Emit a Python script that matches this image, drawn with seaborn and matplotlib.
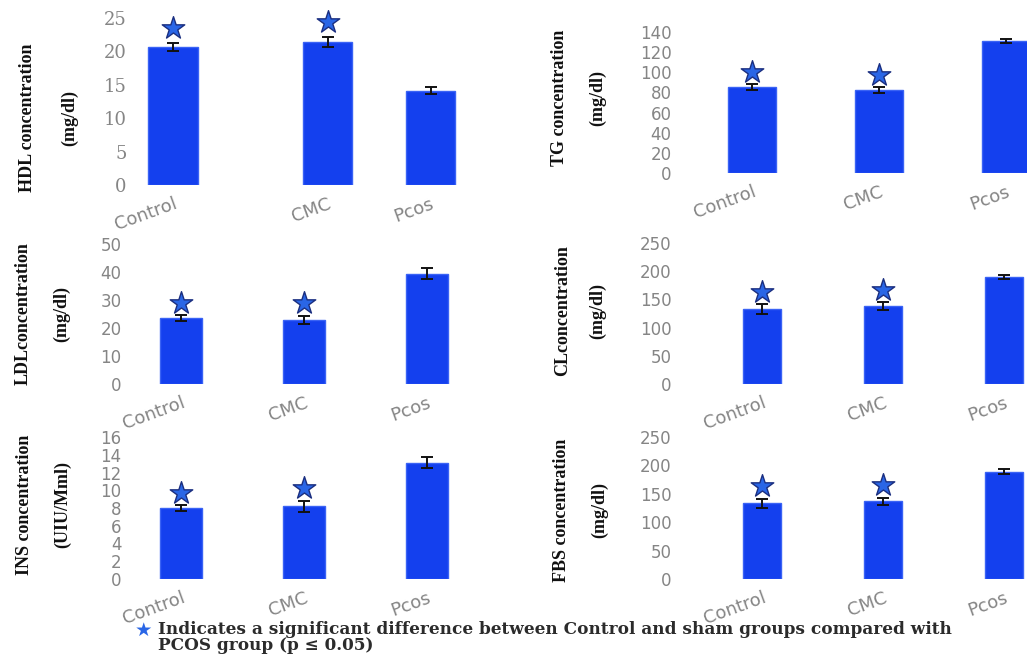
import numpy as np
import pandas as pd
import matplotlib
matplotlib.use("Agg")
import matplotlib.pyplot as plt
import seaborn as sns

groups = ["Control", "CMC", "Pcos"]

# mean values and error
hdl = [20.6, 21.4, 14.1]
hdl_err = [0.6, 0.8, 0.5]
tg = [85, 82, 131]
tg_err = [3, 3, 2]
ldl = [23.6, 22.9, 39.4]
ldl_err = [1.0, 1.5, 2.0]
cl = [133, 138, 190]
cl_err = [8, 7, 4]
ins = [8.0, 8.2, 13.1]
ins_err = [0.3, 0.6, 0.6]
fbs = [133, 137, 189]
fbs_err = [8, 6, 4]

starred = ["Control", "CMC"]

main_labels = ["HDL concentration", "TG concentration", "LDLconcentration",
               "CLconcentration", "INS concentration", "FBS concentration"]
unit_labels = ["(mg/dl)", "(mg/dl)", "(mg/dl)", "(mg/dl)", "(UIU/Mml)", "(mg/dl)"]
ymax = [25, 140, 50, 250, 16, 250]
ystep = [5, 20, 10, 50, 2, 50]

W, H = 1027, 656
bar_color = "#1440ee"
grey = "#858585"

# layout in pixels: axes left, right, y of zero, y of top; x positions; bar width
panels = [
    dict(l=135, r=470, y0=185, y1=18, pos=[0, 1.5, 2.5], x0=173, unit=103, bw=0.48, lx=(28, 70), ly=118),
    dict(l=680, r=1027, y0=173, y1=32, pos=[0, 1, 2], x0=752, unit=127, bw=0.38, lx=(560, 598), ly=98),
    dict(l=130, r=470, y0=384, y1=244, pos=[0, 1, 2], x0=181, unit=123, bw=0.34, lx=(23, 62), ly=314),
    dict(l=680, r=1027, y0=384, y1=243, pos=[0, 1, 2], x0=762, unit=121, bw=0.32, lx=(563, 598), ly=311),
    dict(l=130, r=470, y0=579, y1=437, pos=[0, 1, 2], x0=181, unit=123, bw=0.34, lx=(25, 63), ly=505),
    dict(l=680, r=1027, y0=579, y1=437, pos=[0, 1, 2], x0=762, unit=121, bw=0.32, lx=(562, 600), ly=510),
]

values = [hdl, tg, ldl, cl, ins, fbs]
errors = [hdl_err, tg_err, ldl_err, cl_err, ins_err, fbs_err]

sns.set_style("white")
fig = plt.figure(figsize=(W / 100, H / 100), dpi=100)

for i, p in enumerate(panels):
    ax = fig.add_axes([p["l"] / W, 1 - p["y0"] / H, (p["r"] - p["l"]) / W, (p["y0"] - p["y1"]) / H])
    df = pd.DataFrame({"x": p["pos"], "val": values[i], "group": groups})
    sns.barplot(data=df, x="x", y="val", native_scale=True, width=p["bw"],
                color=bar_color, saturation=1, edgecolor="#3a63f5", linewidth=1, ax=ax)
    ax.errorbar(p["pos"], values[i], yerr=errors[i], fmt="none", ecolor="#111111",
                elinewidth=1.4, capsize=4, capthick=1.4)
    # significance stars above Control and CMC
    sx = [p["pos"][groups.index(g)] for g in starred]
    sy = [values[i][groups.index(g)] + errors[i][groups.index(g)] + 0.09 * ymax[i] for g in starred]
    ax.scatter(sx, sy, marker="*", s=290, color="#2a66e6", edgecolors="#1b2f80",
               linewidths=1, zorder=5, clip_on=False)

    ax.set_ylim(0, ymax[i])
    ax.set_yticks(np.arange(0, ymax[i] + 1, ystep[i]))
    ax.set_xlim((p["l"] - p["x0"]) / p["unit"], (p["r"] - p["x0"]) / p["unit"])
    ax.set_xticks(p["pos"])
    ax.set_xticklabels(groups, rotation=20, ha="right", rotation_mode="anchor",
                       fontsize=13, color=grey, family="DejaVu Sans")
    if i == 0:
        for t in ax.get_yticklabels():
            t.set_family("DejaVu Serif")
            t.set_fontsize(13)
    else:
        for t in ax.get_yticklabels():
            t.set_family("DejaVu Sans")
            t.set_fontsize(12)
    ax.tick_params(axis="y", length=0, pad=6, colors=grey)
    ax.tick_params(axis="x", length=0, pad=7)
    ax.set_xlabel("")
    ax.set_ylabel("")
    sns.despine(ax=ax, left=True, bottom=True)
    ax.patch.set_alpha(0)

    fig.text(p["lx"][0] / W, 1 - p["ly"] / H, main_labels[i], rotation=90, ha="center", va="center",
             family="Liberation Serif", fontweight="bold", fontsize=13, color="#111111")
    fig.text(p["lx"][1] / W, 1 - p["ly"] / H, unit_labels[i], rotation=90, ha="center", va="center",
             family="Liberation Serif", fontweight="bold", fontsize=13, color="#111111")

# footnote
fig.text(143 / W, 1 - 630 / H, "\u2605", ha="center", va="center", fontsize=14,
         color="#2a66e6", family="DejaVu Sans")
fig.text(158 / W, 1 - 629 / H, "Indicates a significant difference between Control and sham groups compared with",
         ha="left", va="center", family="DejaVu Serif", fontweight="bold", fontsize=12.2, color="#2b2b2b")
fig.text(158 / W, 1 - 646 / H, "PCOS group (p \u2264 0.05)",
         ha="left", va="center", family="DejaVu Serif", fontweight="bold", fontsize=12.2, color="#2b2b2b")

plt.savefig("out.png", dpi=100)
